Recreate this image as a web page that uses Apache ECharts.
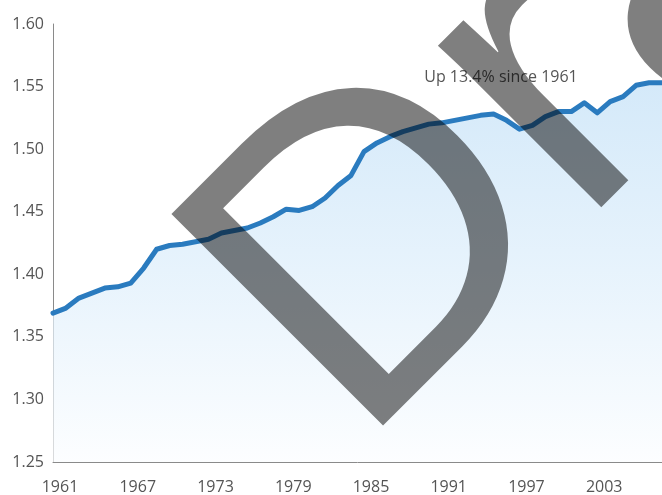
<!DOCTYPE html>
<html>
<head>
<meta charset="utf-8">
<script src="https://cdn.jsdelivr.net/npm/echarts@6/dist/echarts.min.js"></script>
<style>
html,body{margin:0;padding:0;background:#fff;}
#chart{width:662px;height:495px;}
</style>
</head>
<body>
<div id="chart"></div>
<script>
const years = ['1961','1962','1963','1964','1965','1966','1967','1968','1969','1970',
  '1971','1972','1973','1974','1975','1976','1977','1978','1979','1980',
  '1981','1982','1983','1984','1985','1986','1987','1988','1989','1990',
  '1991','1992','1993','1994','1995','1996','1997','1998','1999','2000',
  '2001','2002','2003','2004','2005','2006','2007','2008'];
const values = [1.369,1.373,1.381,1.385,1.389,1.390,1.393,1.405,1.420,1.423,
  1.424,1.426,1.428,1.433,1.435,1.437,1.441,1.446,1.452,1.451,
  1.454,1.461,1.471,1.479,1.498,1.505,1.510,1.514,1.517,1.520,
  1.521,1.523,1.525,1.527,1.528,1.523,1.516,1.519,1.526,1.530,
  1.530,1.537,1.529,1.538,1.542,1.551,1.553,1.553];
const yTicks = {min: 1.25, max: 1.60, step: 0.05};
const annotation = 'Up 13.4% since 1961';
const watermark = 'Draft';

const chart = echarts.init(document.getElementById('chart'), null, {renderer: 'canvas'});
chart.setOption({
  animation: false,
  backgroundColor: '#ffffff',
  grid: {left: 53, right: -5, top: 24, bottom: 32, containLabel: false},
  xAxis: {
    type: 'category',
    data: years,
    boundaryGap: false,
    axisLine: {show: true, lineStyle: {color: '#8a8a8a', width: 1}},
    axisTick: {show: false},
    splitLine: {show: false},
    axisLabel: {
      interval: 5,
      color: '#555',
      fontFamily: 'Open Sans',
      fontSize: 16,
      margin: 17,
      padding: [0, 0, 0, 14]
    }
  },
  yAxis: {
    type: 'value',
    min: yTicks.min,
    max: yTicks.max,
    interval: yTicks.step,
    axisLine: {show: true, lineStyle: {color: '#8a8a8a', width: 1}},
    axisTick: {show: false},
    splitLine: {show: false},
    axisLabel: {
      color: '#555',
      fontFamily: 'Open Sans',
      fontSize: 16,
      margin: 9,
      padding: [0, 0, 5, 0],
      formatter: v => v.toFixed(2)
    }
  },
  series: [{
    type: 'line',
    data: values,
    smooth: false,
    showSymbol: false,
    symbol: 'none',
    lineStyle: {color: '#2a7bbf', width: 5, join: 'round', cap: 'round'},
    areaStyle: {
      color: new echarts.graphic.LinearGradient(0, 0, 0, 1, [
        {offset: 0, color: '#c2e0f7'},
        {offset: 0.5, color: '#ddeefb'},
        {offset: 1, color: '#fbfdff'}
      ])
    },
    z: 2
  }],
  graphic: [
    {
      type: 'text',
      x: 501, y: 77,
      z: 50,
      style: {
        text: annotation,
        font: '16px "Open Sans"',
        fill: '#555',
        align: 'center',
        verticalAlign: 'middle'
      }
    },
    {
      type: 'text',
      x: 273, y: 366,
      rotation: Math.PI / 4,
      z: 100,
      style: {
        text: watermark,
        font: '435px "Liberation Sans"',
        fill: 'rgba(0,0,0,0.5)',
        align: 'left',
        verticalAlign: 'middle'
      }
    }
  ]
});
</script>
</body>
</html>
